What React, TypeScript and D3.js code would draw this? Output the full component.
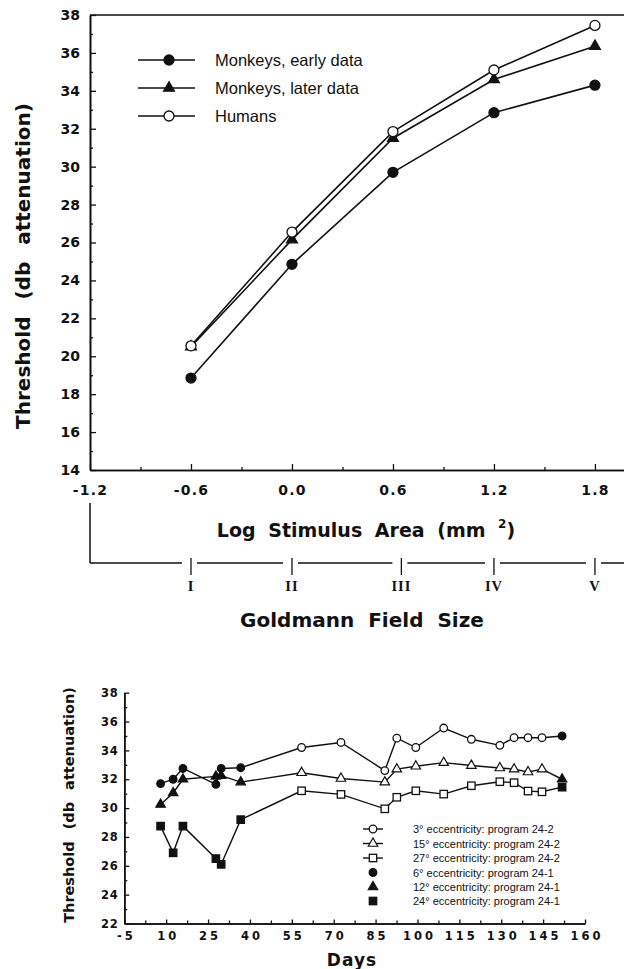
import React, { useEffect, useRef } from 'react';
import * as d3 from 'd3';

// top panel: threshold vs stimulus area
const logArea = [-0.6, 0.0, 0.6, 1.2, 1.8];
const monkeysEarly = [18.85, 24.85, 29.7, 32.85, 34.3];
const monkeysLater = [20.5, 26.15, 31.5, 34.6, 36.35];
const humans = [20.55, 26.55, 31.85, 35.1, 37.45];
const topNames = ['Monkeys, early data', 'Monkeys, later data', 'Humans'];
const logTicks = [-1.2, -0.6, 0.0, 0.6, 1.2, 1.8];
const goldmannSizes = ['I', 'II', 'III', 'IV', 'V'];
const goldmannLog = [-0.6, 0.0, 0.65, 1.2, 1.8];

// bottom panel: threshold vs days
const days = [8, 12.5, 16, 27.8, 29.7, 36.7, 58.5, 72.6, 88.3, 92.6, 99.4, 109.4, 119.3, 129.5, 134.6, 139.6, 144.6, 151.8];
const program = ['24-1', '24-1', '24-1', '24-1', '24-1', '24-1', '24-2', '24-2', '24-2', '24-2', '24-2', '24-2', '24-2', '24-2', '24-2', '24-2', '24-2', '24-1'];
const centralValues = [31.7, 32.0, 32.75, 31.65, 32.75, 32.8, 34.2, 34.55, 32.6, 34.85, 34.2, 35.55, 34.77, 34.35, 34.88, 34.88, 34.88, 35.0];
const middleValues = [30.25, 31.05, 32.0, 32.2, 32.25, 31.8, 32.45, 32.05, 31.8, 32.7, 32.9, 33.15, 32.95, 32.78, 32.7, 32.5, 32.7, 32.0];
const outerValues = [28.75, 26.9, 28.75, 26.5, 26.1, 29.2, 31.2, 30.95, 29.95, 30.75, 31.2, 30.97, 31.55, 31.83, 31.76, 31.18, 31.13, 31.45];
const bottomNames = [
  '3° eccentricity: program 24-2',
  '15° eccentricity: program 24-2',
  '27° eccentricity: program 24-2',
  '6° eccentricity: program 24-1',
  '12° eccentricity: program 24-1',
  '24° eccentricity: program 24-1',
];

const BOLD = 'DejaVu Sans, Verdana, sans-serif';
const SANS = 'Liberation Sans, Arial, sans-serif';
const INK = '#111';

const App = () => {
  const svgRef = useRef<SVGSVGElement>(null);

  useEffect(() => {
    document.body.style.margin = '0';
    const svg = d3.select(svgRef.current);
    svg.selectAll('*').remove();

    const marker = (g: any, shape: string, cx: number, cy: number, filled: boolean, s: number) => {
      const fill = filled ? INK : '#fff';
      if (shape === 'circle') {
        g.append('circle').attr('cx', cx).attr('cy', cy).attr('r', s)
          .attr('fill', fill).attr('stroke', INK).attr('stroke-width', 1.3);
      } else if (shape === 'square') {
        g.append('rect').attr('x', cx - s).attr('y', cy - s).attr('width', 2 * s).attr('height', 2 * s)
          .attr('fill', fill).attr('stroke', INK).attr('stroke-width', 1.3);
      } else {
        g.append('path').attr('d', d3.symbol(d3.symbolTriangle, s * s * 2.1)())
          .attr('transform', `translate(${cx},${cy})`)
          .attr('fill', fill).attr('stroke', INK).attr('stroke-width', 1.2);
      }
    };

    const styleAxis = (g: any, size: number, spacing: number) => {
      g.select('.domain').attr('stroke', INK).attr('stroke-width', 1.6);
      g.selectAll('.tick line').attr('stroke', INK).attr('stroke-width', 1.3);
      g.selectAll('.tick text').attr('fill', INK).attr('font-family', BOLD)
        .attr('font-weight', 'bold').attr('font-size', size).attr('letter-spacing', spacing);
    };

    // ---------------- top panel ----------------
    const x1 = d3.scaleLinear().domain([-1.2, 2.0]).range([90, 628.6]);
    const y1 = d3.scaleLinear().domain([14, 38]).range([470, 15]);
    const top = svg.append('g');

    top.append('line').attr('x1', 90).attr('x2', 624).attr('y1', y1(38)).attr('y2', y1(38))
      .attr('stroke', INK).attr('stroke-width', 1.6);

    const xa = top.append('g').attr('transform', `translate(0,${y1(14)})`)
      .call(d3.axisBottom(x1).tickValues(logTicks).tickSize(-6).tickSizeOuter(0).tickPadding(15)
        .tickFormat((d: any) => d.toFixed(1)));
    styleAxis(xa, 14, 1.2);
    const xm = top.append('g').attr('transform', `translate(0,${y1(14)})`)
      .call(d3.axisBottom(x1).tickValues(d3.range(-0.9, 2.0, 0.6)).tickSize(-3).tickSizeOuter(0).tickFormat(() => ''));
    styleAxis(xm, 14, 0);

    const ya = top.append('g').attr('transform', `translate(${x1(-1.2)},0)`)
      .call(d3.axisLeft(y1).tickValues(d3.range(14, 39, 2)).tickSize(-6).tickSizeOuter(0).tickPadding(10));
    styleAxis(ya, 14, 0);
    const ym = top.append('g').attr('transform', `translate(${x1(-1.2)},0)`)
      .call(d3.axisLeft(y1).tickValues(d3.range(15, 38, 2)).tickSize(-3).tickSizeOuter(0).tickFormat(() => ''));
    styleAxis(ym, 14, 0);

    const topSeries = [
      { values: monkeysEarly, shape: 'circle', filled: true },
      { values: monkeysLater, shape: 'triangle', filled: true },
      { values: humans, shape: 'circle', filled: false },
    ];
    const line1 = d3.line<number>().x((d, i) => x1(logArea[i])).y((d) => y1(d));
    topSeries.forEach((s) => {
      top.append('path').attr('d', line1(s.values)).attr('fill', 'none')
        .attr('stroke', INK).attr('stroke-width', 1.6);
    });
    topSeries.forEach((s) => {
      s.values.forEach((v, i) => marker(top, s.shape, x1(logArea[i]), y1(v), s.filled, 5));
    });

    // legend
    topSeries.forEach((s, i) => {
      const ly = 60 + i * 28;
      top.append('line').attr('x1', 138).attr('x2', 195).attr('y1', ly).attr('y2', ly)
        .attr('stroke', INK).attr('stroke-width', 1.6);
      marker(top, s.shape, 169, ly, s.filled, 5);
      top.append('text').attr('x', 215).attr('y', ly + 6).attr('font-family', SANS)
        .attr('font-size', 16.5).attr('fill', INK).text(topNames[i]);
    });

    top.append('text').attr('transform', 'translate(30,266) rotate(-90)').attr('text-anchor', 'middle')
      .attr('font-family', BOLD).attr('font-weight', 'bold').attr('font-size', 20)
      .attr('word-spacing', 10).attr('fill', INK).text('Threshold (db attenuation)');

    const title = top.append('text').attr('x', 366).attr('y', 537).attr('text-anchor', 'middle')
      .attr('font-family', BOLD).attr('font-weight', 'bold').attr('font-size', 19)
      .attr('word-spacing', 6).attr('fill', INK);
    title.append('tspan').text('Log Stimulus Area (mm ');
    title.append('tspan').attr('font-size', 12).attr('dy', -9).text('2');
    title.append('tspan').attr('dy', 9).text(')');

    // Goldmann bracket
    top.append('line').attr('x1', 90).attr('x2', 90).attr('y1', 503).attr('y2', 563)
      .attr('stroke', INK).attr('stroke-width', 1.5);
    let start = 90;
    goldmannLog.forEach((g, i) => {
      const px = x1(g);
      top.append('line').attr('x1', start).attr('x2', px - 9).attr('y1', 563).attr('y2', 563)
        .attr('stroke', INK).attr('stroke-width', 1.5);
      top.append('line').attr('x1', px).attr('x2', px).attr('y1', 558).attr('y2', 575)
        .attr('stroke', INK).attr('stroke-width', 1.3);
      top.append('text').attr('x', px).attr('y', 591).attr('text-anchor', 'middle')
        .attr('font-family', 'Liberation Serif, Times New Roman, serif').attr('font-weight', 'bold')
        .attr('font-size', 14.5).attr('letter-spacing', 1).attr('fill', INK).text(goldmannSizes[i]);
      start = px + 6;
    });
    top.append('line').attr('x1', start).attr('x2', 624).attr('y1', 563).attr('y2', 563)
      .attr('stroke', INK).attr('stroke-width', 1.5);

    top.append('text').attr('x', 362).attr('y', 627).attr('text-anchor', 'middle')
      .attr('font-family', BOLD).attr('font-weight', 'bold').attr('font-size', 20)
      .attr('word-spacing', 7).attr('fill', INK).text('Goldmann Field Size');

    // ---------------- bottom panel ----------------
    const x2 = d3.scaleLinear().domain([-5, 160]).range([124.3, 585]);
    const y2 = d3.scaleLinear().domain([22, 38]).range([923.5, 692.7]);
    const bot = svg.append('g');

    const bx = bot.append('g').attr('transform', `translate(0,${y2(22)})`)
      .call(d3.axisBottom(x2).tickValues(d3.range(-5, 161, 15)).tickSize(-4).tickSizeOuter(0).tickPadding(8)
        .tickFormat((d: any) => String(d)));
    styleAxis(bx, 11.5, 3);
    bx.selectAll('.tick text').attr('dx', 1.5);
    const bxm = bot.append('g').attr('transform', `translate(0,${y2(22)})`)
      .call(d3.axisBottom(x2).tickValues(d3.range(2.5, 160, 15)).tickSize(-3).tickSizeOuter(0).tickFormat(() => ''));
    styleAxis(bxm, 10, 0);

    const by = bot.append('g').attr('transform', `translate(${x2(-5)},0)`)
      .call(d3.axisLeft(y2).tickValues(d3.range(22, 39, 2)).tickSize(-5).tickSizeOuter(0).tickPadding(6));
    styleAxis(by, 11.5, 0.6);
    const bym = bot.append('g').attr('transform', `translate(${x2(-5)},0)`)
      .call(d3.axisLeft(y2).tickValues(d3.range(23, 38, 2)).tickSize(-3).tickSizeOuter(0).tickFormat(() => ''));
    styleAxis(bym, 11, 0);

    const bottomSeries = [
      { values: centralValues, shape: 'circle', size: 3.8 },
      { values: middleValues, shape: 'triangle', size: 4.3 },
      { values: outerValues, shape: 'square', size: 3.7 },
    ];
    const line2 = d3.line<number>().x((d, i) => x2(days[i])).y((d) => y2(d));
    bottomSeries.forEach((s) => {
      bot.append('path').attr('d', line2(s.values)).attr('fill', 'none')
        .attr('stroke', INK).attr('stroke-width', 1.4);
    });
    bottomSeries.forEach((s) => {
      s.values.forEach((v, i) => marker(bot, s.shape, x2(days[i]), y2(v), program[i] === '24-1', s.size));
    });

    // legend
    const legendRows = [829, 843.5, 858, 872.5, 887, 901];
    legendRows.forEach((ly, i) => {
      const s = bottomSeries[i % 3];
      const filled = i >= 3;
      if (!filled) {
        bot.append('line').attr('x1', 363).attr('x2', 383).attr('y1', ly).attr('y2', ly)
          .attr('stroke', INK).attr('stroke-width', 1.4);
      }
      marker(bot, s.shape, 373, ly, filled, s.size);
      bot.append('text').attr('x', 413).attr('y', ly + 4).attr('font-family', SANS)
        .attr('font-size', 11).attr('fill', INK).text(bottomNames[i]);
    });

    bot.append('text').attr('transform', 'translate(74,805) rotate(-90)').attr('text-anchor', 'middle')
      .attr('font-family', BOLD).attr('font-weight', 'bold').attr('font-size', 14.5)
      .attr('word-spacing', 7).attr('fill', INK).text('Threshold (db attenuation)');

    bot.append('text').attr('x', 352).attr('y', 966).attr('text-anchor', 'middle')
      .attr('font-family', BOLD).attr('font-weight', 'bold').attr('font-size', 17)
      .attr('letter-spacing', 1).attr('fill', INK).text('Days');
  }, []);

  return (
    <svg ref={svgRef} width={624} height={969} style={{ display: 'block', background: '#fff' }}></svg>
  );
};

export default App;
